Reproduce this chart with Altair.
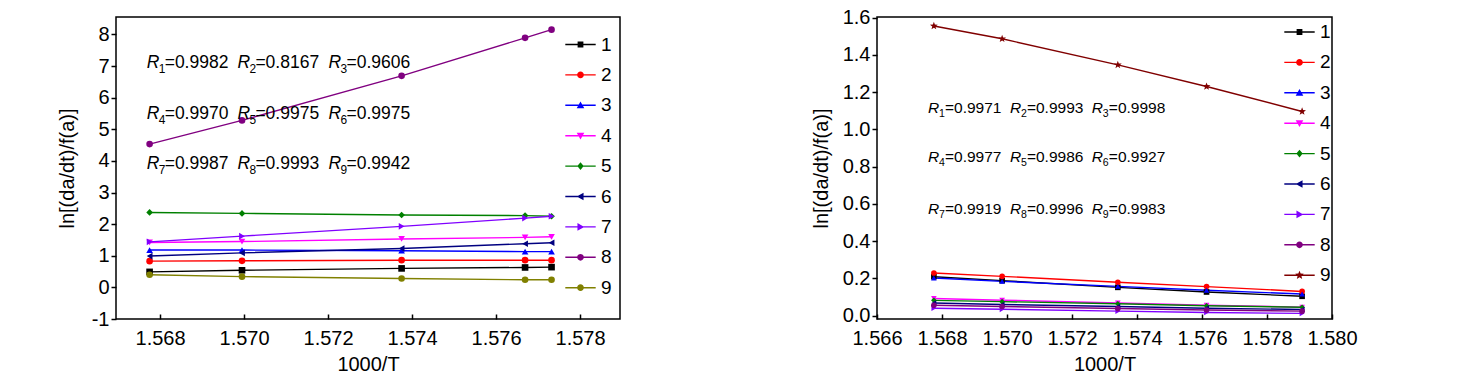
import math
import altair as alt
import pandas as pd

FONT = "Liberation Sans"
SERIES = ["1", "2", "3", "4", "5", "6", "7", "8", "9"]

# ---------------- left panel data ----------------
LEFT_X = [1.56775, 1.56995, 1.57375, 1.57669, 1.57732]
LEFT_S1 = [0.49, 0.54, 0.60, 0.63, 0.64]
LEFT_S2 = [0.83, 0.84, 0.86, 0.86, 0.86]
LEFT_S3 = [1.18, 1.18, 1.16, 1.13, 1.13]
LEFT_S4 = [1.42, 1.45, 1.53, 1.58, 1.60]
LEFT_S5 = [2.37, 2.34, 2.29, 2.27, 2.25]
LEFT_S6 = [0.99, 1.09, 1.23, 1.38, 1.41]
LEFT_S7 = [1.44, 1.62, 1.93, 2.19, 2.25]
LEFT_S8 = [4.53, 5.28, 6.69, 7.89, 8.15]
LEFT_S9 = [0.40, 0.34, 0.28, 0.24, 0.24]
LEFT_R = ["0.9982", "0.8167", "0.9606", "0.9970", "0.9975", "0.9975",
          "0.9987", "0.9993", "0.9942"]

# ---------------- right panel data ----------------
RIGHT_X = [1.56775, 1.56985, 1.57341, 1.57614, 1.57908]
RIGHT_S1 = [0.209, 0.188, 0.152, 0.127, 0.104]
RIGHT_S2 = [0.229, 0.211, 0.179, 0.156, 0.130]
RIGHT_S3 = [0.202, 0.184, 0.157, 0.136, 0.116]
RIGHT_S4 = [0.092, 0.083, 0.068, 0.056, 0.046]
RIGHT_S5 = [0.082, 0.075, 0.064, 0.053, 0.045]
RIGHT_S6 = [0.068, 0.060, 0.049, 0.040, 0.033]
RIGHT_S7 = [0.040, 0.034, 0.024, 0.017, 0.012]
RIGHT_S8 = [0.056, 0.049, 0.038, 0.030, 0.024]
RIGHT_S9 = [1.555, 1.486, 1.346, 1.230, 1.096]
RIGHT_R = ["0.9971", "0.9993", "0.9998", "0.9977", "0.9986", "0.9927",
           "0.9919", "0.9996", "0.9983"]

# annotation anchor positions (data coordinates) : 3 columns x 3 rows
LEFT_ANN_X = [1.56768, 1.56984, 1.57201]
LEFT_ANN_Y = [7.09, 5.48, 3.90]
RIGHT_ANN_X = [1.56757, 1.57009, 1.57261]
RIGHT_ANN_Y = [1.117, 0.849, 0.572]

# ---------------- styles ----------------
LEFT_COLORS = ["#000000", "#FF0000", "#0000FF", "#FF00FF", "#008000",
               "#000080", "#8000FF", "#800080", "#808000"]
RIGHT_COLORS = ["#000000", "#FF0000", "#0000FF", "#FF00FF", "#008000",
                "#000080", "#8000FF", "#800080", "#800000"]


def star_path(ro, ri):
    pts = []
    for k in range(10):
        a = -math.pi / 2 + k * math.pi / 5
        r = ro if k % 2 == 0 else ri
        pts.append((r * math.cos(a), r * math.sin(a)))
    return "M" + "L".join(f"{x:.3f},{y:.3f}" for x, y in pts) + "Z"


STAR = star_path(1.45, 0.6)
LEFT_MARKERS = ["square", "circle", "triangle-up", "triangle-down", "diamond",
                "triangle-left", "triangle-right", "circle", "circle"]
RIGHT_MARKERS = ["square", "circle", "triangle-up", "triangle-down", "diamond",
                 "triangle-left", "triangle-right", "circle", STAR]

LINE = "M-1,-0.045H1V0.045H-1Z"
M_SQUARE = "M-0.19,-0.19H0.19V0.19H-0.19Z"
M_CIRCLE = "M0.22,0A0.22,0.22,0,1,1,-0.22,0A0.22,0.22,0,1,1,0.22,0Z"
M_TUP = "M0,-0.25L0.25,0.2L-0.25,0.2Z"
M_TDOWN = "M0,0.25L-0.25,-0.2L0.25,-0.2Z"
M_DIAM = "M0,-0.26L0.21,0L0,0.26L-0.21,0Z"
M_TLEFT = "M-0.25,0L0.2,-0.25L0.2,0.25Z"
M_TRIGHT = "M0.25,0L-0.2,0.25L-0.2,-0.25Z"
M_STAR = star_path(0.3, 0.13)

LEFT_LEG = [LINE + m for m in [M_SQUARE, M_CIRCLE, M_TUP, M_TDOWN, M_DIAM,
                               M_TLEFT, M_TRIGHT, M_CIRCLE, M_CIRCLE]]
RIGHT_LEG = [LINE + m for m in [M_SQUARE, M_CIRCLE, M_TUP, M_TDOWN, M_DIAM,
                                M_TLEFT, M_TRIGHT, M_CIRCLE, M_STAR]]


def build_df(xs, ys_list, markers, colors):
    rows = []
    for s, ys, mk, c in zip(SERIES, ys_list, markers, colors):
        for x, y in zip(xs, ys):
            rows.append({"x": x, "y": y, "series": s, "marker": mk, "col": c})
    return pd.DataFrame(rows)


def build_ann(xs, ys, rvals):
    rows = []
    for i, v in enumerate(rvals):
        rows.append({"x": xs[i % 3], "y": ys[i // 3], "sub": str(i + 1),
                     "val": "=" + v})
    return pd.DataFrame(rows)


def panel(df, ann, colors, legpaths, xdom, xticks, ydom, yticks, yfmt,
          ylabelexpr, width, height, legx, legy, annsize, msize, subdx, valdx,
          ytp):
    cscale = alt.Scale(domain=SERIES, range=colors)
    xenc = alt.X("x:Q", scale=alt.Scale(domain=xdom, nice=False, zero=False),
                 axis=alt.Axis(values=xticks, tickCount=len(xticks),
                               format=".3f", title="1000/T",
                               offset=-5, tickSize=5, labelPadding=9,
                               titlePadding=6, labelOverlap=False,
                               labelFlush=False))
    yaxis = dict(values=yticks, tickCount=len(yticks),
                 title="ln[(da/dt)/f(a)]", tickSize=5,
                 labelPadding=2, titlePadding=ytp, labelOverlap=False,
                 labelFlush=False)
    if ylabelexpr:
        yaxis["labelExpr"] = ylabelexpr
    else:
        yaxis["format"] = yfmt
    yenc = alt.Y("y:Q", scale=alt.Scale(domain=ydom, nice=False, zero=False),
                 axis=alt.Axis(**yaxis))

    leg = alt.Legend(title=None, orient="none", legendX=legx, legendY=legy,
                     symbolSize=924, symbolOpacity=1, symbolStrokeWidth=0,
                     labelFontSize=19, labelFont=FONT, labelOffset=5,
                     rowPadding=4.4, padding=0, labelColor="black")

    legl = alt.Chart(df).mark_point(filled=True, opacity=0).encode(
        x=xenc, y=yenc,
        color=alt.Color("series:N", scale=cscale, legend=leg),
        shape=alt.Shape("series:N",
                        scale=alt.Scale(domain=SERIES, range=legpaths),
                        legend=leg))
    lines = alt.Chart(df).mark_line(strokeWidth=1.4).encode(
        x="x:Q", y="y:Q", detail="series:N",
        color=alt.Color("col:N", scale=None),
        order="x:Q")
    pts = alt.Chart(df).mark_point(filled=True, size=msize, opacity=1).encode(
        x="x:Q", y="y:Q",
        color=alt.Color("col:N", scale=None),
        shape=alt.Shape("marker:N", scale=None))
    base = alt.Chart(ann).encode(x="x:Q", y="y:Q")
    t_r = base.mark_text(text="R", font=FONT, fontStyle="italic",
                         fontSize=annsize, align="left", baseline="middle",
                         color="black")
    t_s = base.mark_text(font=FONT, fontSize=annsize * 0.68, align="left",
                         baseline="middle", dx=subdx, dy=6,
                         color="black").encode(text="sub:N")
    t_v = base.mark_text(font=FONT, fontSize=annsize, align="left",
                         baseline="middle", dx=valdx,
                         color="black").encode(text="val:N")
    return alt.layer(legl, lines, pts, t_r, t_s, t_v).properties(
        width=width, height=height)


left_df = build_df(LEFT_X, [LEFT_S1, LEFT_S2, LEFT_S3, LEFT_S4, LEFT_S5,
                            LEFT_S6, LEFT_S7, LEFT_S8, LEFT_S9],
                   LEFT_MARKERS, LEFT_COLORS)
right_df = build_df(RIGHT_X, [RIGHT_S1, RIGHT_S2, RIGHT_S3, RIGHT_S4, RIGHT_S5,
                              RIGHT_S6, RIGHT_S7, RIGHT_S8, RIGHT_S9],
                    RIGHT_MARKERS, RIGHT_COLORS)
left_ann = build_ann(LEFT_ANN_X, LEFT_ANN_Y, LEFT_R)
right_ann = build_ann(RIGHT_ANN_X, RIGHT_ANN_Y, RIGHT_R)

left = panel(left_df, left_ann, LEFT_COLORS, LEFT_LEG,
             [1.56695, 1.57895], [1.568, 1.570, 1.572, 1.574, 1.576, 1.578],
             [-1, 8.55], [-1, 0, 1, 2, 3, 4, 5, 6, 7, 8], None,
             "datum.value < 0 ? '-' + abs(datum.value) : '' + datum.value",
             504, 302, 449, 12, 17.5, 44, 12, 18, 14)
right = panel(right_df, right_ann, RIGHT_COLORS, RIGHT_LEG,
              [1.566, 1.580], [1.566, 1.568, 1.570, 1.572, 1.574, 1.576, 1.578, 1.580],
              [-0.018, 1.603], [0, 0.2, 0.4, 0.6, 0.8, 1.0, 1.2, 1.4, 1.6], ".1f",
              None, 455, 302, 407, -0.5, 15.5, 32, 11, 17, 11)

chart = alt.hconcat(left, right, spacing=257, bounds="flush").resolve_scale(
    color="independent", shape="independent", x="independent", y="independent"
).resolve_legend(color="independent", shape="independent").configure_view(
    stroke="black", strokeWidth=1.5
).configure_axis(
    labelFont=FONT, titleFont=FONT, labelFontSize=20, titleFontSize=20,
    labelColor="black", titleColor="black", tickColor="black", tickWidth=1.5,
    domain=False, grid=False, titleFontWeight="normal", labelOverlap=False
).properties(
    padding={"left": 56, "top": 6, "right": 5, "bottom": 5},
    background="white"
)

chart.save("out.html", embed_options={"renderer": "svg", "actions": False})
